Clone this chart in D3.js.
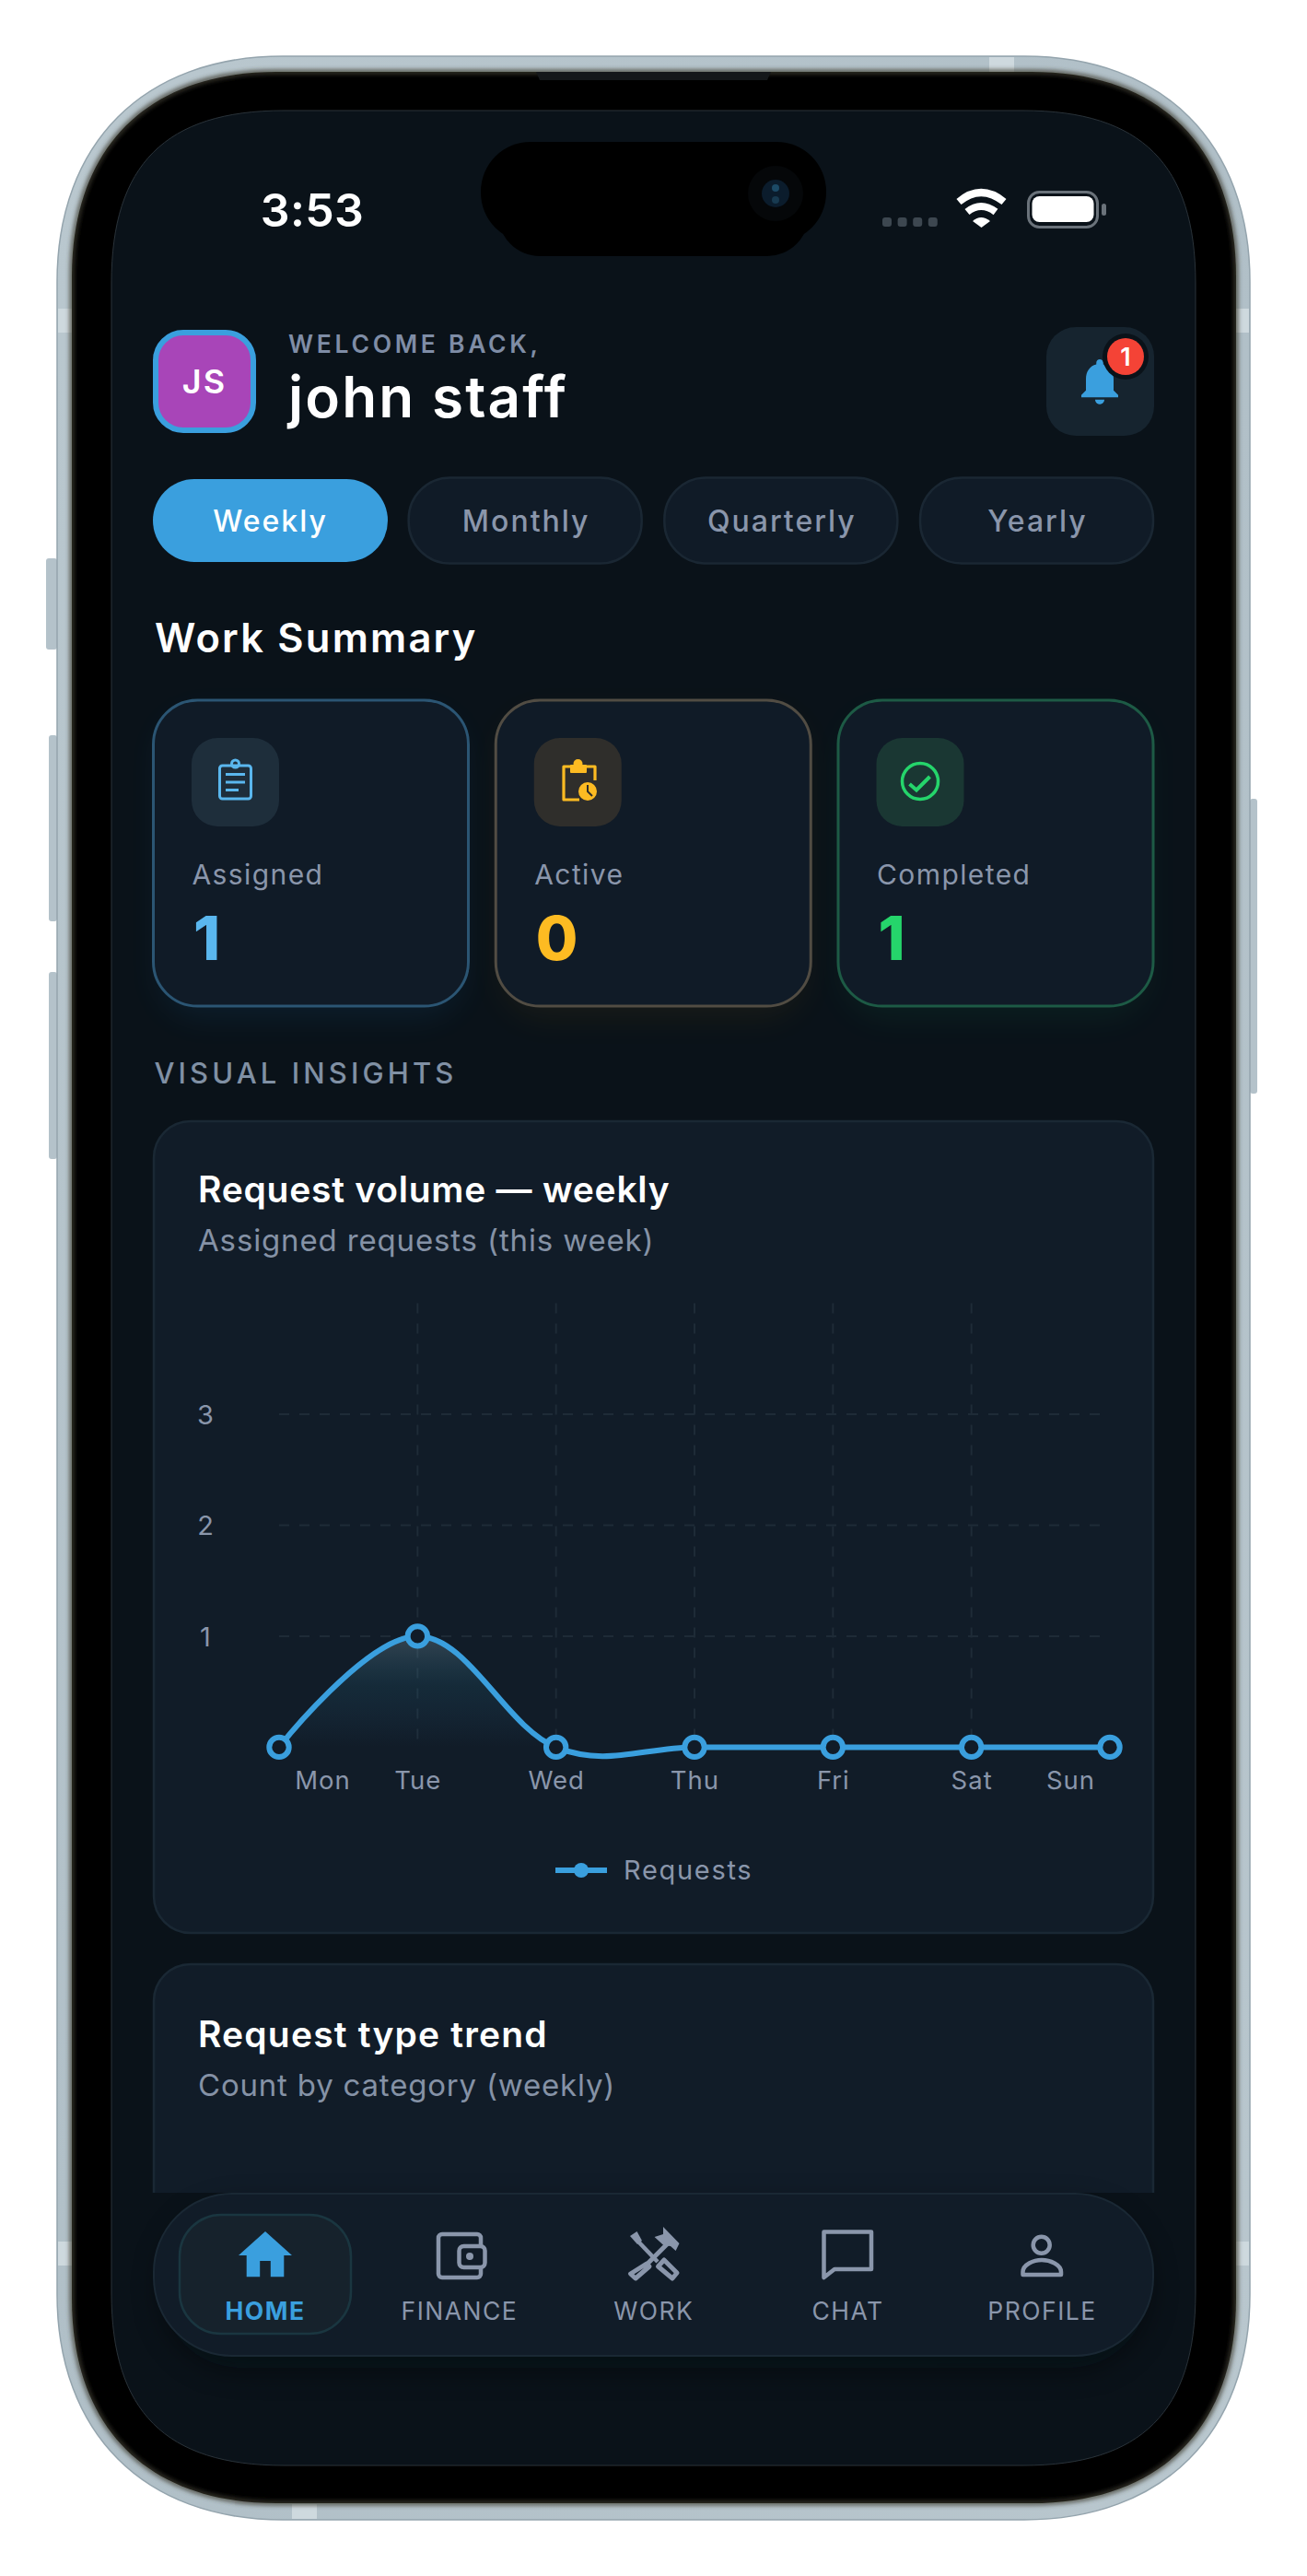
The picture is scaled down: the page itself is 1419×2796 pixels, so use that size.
<!DOCTYPE html>
<html>
<head>
<meta charset="utf-8">
<title>Staff dashboard</title>
<script src="https://cdn.jsdelivr.net/npm/d3@7"></script>
<style>
  html, body { margin: 0; padding: 0; background: #fff; }
  svg { display: block; }
  text { font-family: Inter, "Noto Sans", sans-serif; }
</style>
</head>
<body>
<div id="phone"></div>
<script>
// chart values
const days = ["Mon", "Tue", "Wed", "Thu", "Fri", "Sat", "Sun"];
const requests = [0, 1, 0, 0, 0, 0, 0];
const yTickValues = [1, 2, 3];
const seriesName = "Requests";

// rest of the screen
const periods = ["Weekly", "Monthly", "Quarterly", "Yearly"];
const summaryLabels = ["Assigned", "Active", "Completed"];
const summaryValues = [1, 0, 1];
const navLabels = ["HOME", "FINANCE", "WORK", "CHAT", "PROFILE"];

const blue = "#3a9fde", grey = "#8a96ab", subGrey = "#8592a6", cardFill = "#111c28", cardLine = "#1a2834", screenFill = "#0a1219";

const svg = d3.select("#phone").append("svg").attr("width", 1419).attr("height", 2796);
const defs = svg.append("defs");

function box(parent, x, y, w, h, r, fill, stroke, sw) {
    return parent.append("rect")
        .attr("x", x).attr("y", y).attr("width", w).attr("height", h).attr("rx", r).attr("ry", r)
        .attr("fill", fill).attr("stroke", stroke || "none").attr("stroke-width", sw || 0);
}
function label(parent, str, x, y, size, weight, fill, spacing, anchor) {
    return parent.append("text")
        .attr("x", x).attr("y", y).attr("font-size", size).attr("font-weight", weight)
        .attr("fill", fill).attr("letter-spacing", spacing || 0).attr("text-anchor", anchor || "start")
        .text(str);
}
// rounded rect with the long soft corners of the device outline
function squircle(x, y, w, h, R, k) {
    const c = R * k, r = x + w, b = y + h;
    return `M${x + R} ${y}H${r - R}C${r - c} ${y} ${r} ${y + c} ${r} ${y + R}V${b - R}` +
        `C${r} ${b - c} ${r - c} ${b} ${r - R} ${b}H${x + R}C${x + c} ${b} ${x} ${b - c} ${x} ${b - R}` +
        `V${y + R}C${x} ${y + c} ${x + c} ${y} ${x + R} ${y}Z`;
}

defs.append("filter").attr("id", "glow").attr("x", "-30%").attr("y", "-30%").attr("width", "160%").attr("height", "160%")
    .append("feGaussianBlur").attr("stdDeviation", 16);
defs.append("filter").attr("id", "soft").attr("x", "-5%").attr("y", "-5%").attr("width", "110%").attr("height", "110%")
    .append("feGaussianBlur").attr("stdDeviation", 2.5);
const metal = defs.append("linearGradient").attr("id", "metal").attr("x1", 0).attr("x2", 1).attr("y1", 0).attr("y2", 1);
metal.append("stop").attr("offset", 0).attr("stop-color", "#bac8cf");
metal.append("stop").attr("offset", 0.5).attr("stop-color", "#b0bfc7");
metal.append("stop").attr("offset", 1).attr("stop-color", "#b9c7ce");
const areaFade = defs.append("linearGradient").attr("id", "areaFade").attr("gradientUnits", "userSpaceOnUse")
    .attr("x1", 0).attr("x2", 0).attr("y1", 1776).attr("y2", 1896);
areaFade.append("stop").attr("offset", 0).attr("stop-color", "#7f98a8").attr("stop-opacity", 0.32);
areaFade.append("stop").attr("offset", 0.45).attr("stop-color", "#2f8aa8").attr("stop-opacity", 0.13);
areaFade.append("stop").attr("offset", 1).attr("stop-color", blue).attr("stop-opacity", 0);
const screenPath = squircle(121, 120, 1177, 2556, 187, 0.314);
defs.append("clipPath").attr("id", "screenClip").append("path").attr("d", screenPath);
defs.append("clipPath").attr("id", "scrollClip").append("rect")
    .attr("x", 121).attr("y", 120).attr("width", 1177).attr("height", 2260);

// ---- phone body ----
const body = svg.append("g");
[[50, 606, 12, 99], [53, 798, 9, 202], [53, 1055, 9, 203], [1357, 867, 8, 320]].forEach(b => {
    box(body, b[0], b[1], b[2], b[3], 3, "#b4c2ca");
});
body.append("path").attr("d", squircle(62, 61, 1295, 2674, 245, 0.385))
    .attr("fill", "url(#metal)").attr("stroke", "#94a4ad").attr("stroke-width", 1.5);
[[63, 335, 15, 26], [1341, 335, 15, 26], [63, 2433, 15, 26], [1341, 2433, 15, 26]].forEach(b => {
    box(body, b[0], b[1], b[2], b[3], 0, "#ced9de");
});
box(body, 1074, 62, 27, 16, 0, "#ced9de");
box(body, 317, 2718, 27, 16, 0, "#ced9de");
const bezel = squircle(78, 78, 1264, 2639, 222, 0.37);
body.append("path").attr("d", bezel).attr("fill", "#000");
body.append("path").attr("d", bezel).attr("fill", "none").attr("stroke", "#3f3d33").attr("stroke-width", 4).attr("filter", "url(#soft)");
body.append("path").attr("d", "M582 78H837L833 87H586Z").attr("fill", "#14171a");

const screen = svg.append("g").attr("clip-path", "url(#screenClip)");
screen.append("path").attr("d", screenPath).attr("fill", screenFill);
svg.append("path").attr("d", screenPath).attr("fill", "none").attr("stroke", "#2a333a").attr("stroke-width", 1);

// ---- status bar ----
box(screen, 541, 180, 337, 98, 45, "#000");
box(screen, 522, 154, 375, 109, 54, "#000");
screen.append("ellipse").attr("cx", 842).attr("cy", 210).attr("rx", 30).attr("ry", 30).attr("fill", "#050709");
screen.append("circle").attr("cx", 842).attr("cy", 210).attr("r", 15).attr("fill", "#0b1c2c");
screen.append("circle").attr("cx", 842).attr("cy", 204).attr("r", 4).attr("fill", "#1c4a66");
screen.append("circle").attr("cx", 842).attr("cy", 217).attr("r", 4).attr("fill", "#183a50");
label(screen, "3:53", 339, 246, 50, 600, "#fff", 0.4, "middle");
d3.range(4).forEach(i => box(screen, 958 + i * 16.6, 236, 10, 10, 3, "#3d4750"));
const wifi = screen.append("g").attr("fill", "none").attr("stroke", "#fff").attr("stroke-width", 8);
wifi.append("path").attr("d", "M1041 219Q1065 199 1090 219");
wifi.append("path").attr("d", "M1050 230Q1065 218 1081 230");
screen.append("path").attr("d", "M1056 240Q1065 232 1075 240L1065.5 247Z").attr("fill", "#fff");
box(screen, 1116.5, 208.5, 75, 38, 12, "none", "#6a727a", 3);
box(screen, 1120.5, 213, 67, 28, 8, "#fff");
box(screen, 1196, 221, 5, 13, 2.5, "#6a727a");

// ---- header ----
box(screen, 169, 361, 106, 106, 30, "#a845b8", "#3a9fde", 6);
label(screen, "JS", 222, 427, 36, 600, "#fff", 2, "middle");
label(screen, "WELCOME BACK,", 313, 383.3, 26.5, 600, "#7f8da6", 3.7);
label(screen, "john staff", 313, 453, 62, 600, "#fff", 2.1);
box(screen, 1136, 355, 117, 118, 32, "#16242f");
screen.append("path")
    .attr("d", "M12 22c1.1 0 2-.9 2-2h-4c0 1.1.89 2 2 2zm6-6v-5c0-3.07-1.64-5.64-4.5-6.32V4c0-.83-.67-1.5-1.5-1.5s-1.5.67-1.5 1.5v.68C7.63 5.36 6 7.92 6 11v5l-2 2v1h16v-1l-2-2z")
    .attr("transform", "translate(1164,383.7) scale(2.5)")
    .attr("fill", blue);
screen.append("circle").attr("cx", 1222).attr("cy", 387).attr("r", 25).attr("fill", screenFill);
screen.append("circle").attr("cx", 1222).attr("cy", 387).attr("r", 20).attr("fill", "#f44336");
label(screen, "1", 1222, 397, 27, 600, "#fff", 0, "middle");

// ---- period tabs ----
const tabX = d3.scalePoint().domain(periods).range([166, 999]);
periods.forEach((p, i) => {
    const on = i === 0;
    box(screen, tabX(p), on ? 520 : 518.5, on ? 255 : 253, on ? 90 : 93, 45,
        on ? blue : "#101b27", on ? "none" : "#1a2733", on ? 0 : 2.5);
    label(screen, p, tabX(p) + (on ? 127.5 : 127.5), 576.5, 32, 500, on ? "#fff" : grey, 2, "middle");
});

// ---- work summary ----
label(screen, "Work Summary", 168, 708, 43.5, 600, "#fff", 2.2);
const cardX = d3.scalePoint().domain(summaryLabels).range([166.5, 910]);
const cardLines = ["#2b5573", "#514c43", "#1d5a45"];
const cardGlow = ["#1f6da8", "#7c5a10", "#127a50"];
const iconFills = ["#1e2e3b", "#2f2e2b", "#1a3733"];
const valueFills = ["#5ab7ee", "#fdbb22", "#25d56b"];
summaryLabels.forEach((name, i) => {
    const x = cardX(name);
    box(screen, x + 6, 775, 330, 330, 48, cardGlow[i]).attr("filter", "url(#glow)").attr("opacity", 0.12);
    box(screen, x, 760, 342, 332, 48, "#101b27", cardLines[i], 3);
    box(screen, x + 41.5, 801, 95, 96, 28, iconFills[i]);
    label(screen, name, x + 42, 960, 30, 400, grey, 1.4);
    label(screen, summaryValues[i], x + 43.5, 1042, 66, 800, valueFills[i]);
});
// assigned icon
const ic1 = screen.append("g").attr("fill", "none").attr("stroke", "#5ab7ee").attr("stroke-width", 3);
box(ic1, 238.5, 831, 34, 36, 3, "none", "#5ab7ee", 3);
ic1.append("circle").attr("cx", 255.5).attr("cy", 829).attr("r", 4);
ic1.selectAll("line").data([[840.5, 266], [849, 266], [857.5, 259]]).join("line")
    .attr("x1", 245).attr("x2", d => d[1]).attr("y1", d => d[0]).attr("y2", d => d[0]);
// active icon
const ic2 = screen.append("g");
ic2.append("path").attr("d", "M646 847V832H612V868H629").attr("fill", "none").attr("stroke", "#fdbb22").attr("stroke-width", 3.2).attr("stroke-linejoin", "round");
box(ic2, 619, 830, 18, 9, 1, "#fdbb22");
ic2.append("circle").attr("cx", 627.5).attr("cy", 829).attr("r", 5).attr("fill", "#fdbb22");
ic2.append("circle").attr("cx", 638).attr("cy", 859).attr("r", 10).attr("fill", "#fdbb22");
ic2.append("path").attr("d", "M638 852V859L643 864").attr("fill", "none").attr("stroke", "#2f2e2b").attr("stroke-width", 2);
// completed icon
const ic3 = screen.append("g").attr("fill", "none").attr("stroke", "#25d56b").attr("stroke-width", 3.5);
ic3.append("circle").attr("cx", 999).attr("cy", 848).attr("r", 19.5);
ic3.append("path").attr("d", "M987.5 851L995 857.5L1009.5 843").attr("stroke-width", 4);

label(screen, "VISUAL INSIGHTS", 167.5, 1176, 31, 500, "#8090a4", 4.1);

// ---- scrolling cards ----
const scroll = screen.append("g").attr("clip-path", "url(#scrollClip)");
box(scroll, 167, 1217, 1085, 881, 40, cardFill, cardLine, 2.5);
label(scroll, "Request volume \u2014 weekly", 215, 1305, 39, 600, "#fff", 0.75);
label(scroll, "Assigned requests (this week)", 215, 1358, 33, 400, subGrey, 0.85);
box(scroll, 167, 2132, 1085, 400, 40, cardFill, cardLine, 2.5);
label(scroll, "Request type trend", 215, 2222, 39, 600, "#fff", 1.17);
label(scroll, "Count by category (weekly)", 215, 2275, 33, 400, subGrey, 0.8);

// ---- line chart ----
const chart = scroll.append("g");
const x = d3.scalePoint().domain(days).range([303, 1205]);
const y = d3.scaleLinear().domain([0, 4]).range([1896.4, 1414.4]);
const smooth = d3.curveCardinal.tension(-0.1);

const grid = chart.append("g").attr("stroke", "#1e2b37").attr("stroke-width", 2).attr("stroke-dasharray", "11 11");
grid.selectAll(".gy").data(yTickValues).join("line").attr("class", "gy")
    .attr("x1", x.range()[0]).attr("x2", x.range()[1]).attr("y1", d => y(d)).attr("y2", d => y(d));
grid.selectAll(".gx").data(days.slice(1, -1)).join("line").attr("class", "gx")
    .attr("x1", d => x(d)).attr("x2", d => x(d)).attr("y1", y(4)).attr("y2", y(0));

const axisY = chart.append("g").attr("transform", "translate(223,0)")
    .call(d3.axisLeft(y).tickValues(yTickValues).tickFormat(d3.format("d")).tickSize(0).tickPadding(0));
axisY.select(".domain").remove();
axisY.selectAll("text").attr("text-anchor", "middle").attr("dy", "0.36em")
    .attr("font-size", 29).attr("font-family", "Inter").attr("font-weight", 400).attr("fill", grey);

const axisX = chart.append("g").attr("transform", "translate(0,1914)")
    .call(d3.axisBottom(x).tickSize(0).tickPadding(0));
axisX.select(".domain").remove();
axisX.selectAll("text").attr("y", 27.7).attr("dy", 0)
    .attr("font-size", 27.5).attr("font-family", "Inter").attr("font-weight", 400)
    .attr("letter-spacing", 1).attr("fill", grey);
// first and last labels get pushed inside the plot
axisX.selectAll("text").filter(d => d === days[0]).attr("dx", 47);
axisX.selectAll("text").filter(d => d === days[days.length - 1]).attr("dx", -43);

chart.append("path").datum(requests)
    .attr("d", d3.area().x((d, i) => x(days[i])).y0(y(0)).y1(d => y(d)).curve(smooth))
    .attr("fill", "url(#areaFade)");
chart.append("path").datum(requests)
    .attr("d", d3.line().x((d, i) => x(days[i])).y(d => y(d)).curve(smooth))
    .attr("fill", "none").attr("stroke", blue).attr("stroke-width", 6);
chart.selectAll(".pt").data(requests).join("circle").attr("class", "pt")
    .attr("cx", (d, i) => x(days[i])).attr("cy", d => y(d)).attr("r", 10.7)
    .attr("fill", cardFill).attr("stroke", blue).attr("stroke-width", 6);

// legend
chart.append("line").attr("x1", 603).attr("x2", 659).attr("y1", 2030).attr("y2", 2030).attr("stroke", blue).attr("stroke-width", 6);
chart.append("circle").attr("cx", 631).attr("cy", 2030).attr("r", 8).attr("fill", blue);
label(chart, seriesName, 677, 2040, 29, 400, grey, 1.7);

// ---- bottom nav ----
box(screen, 176, 2395, 1070, 175, 85, "#05090e").attr("filter", "url(#glow)").attr("opacity", 0.5);
box(screen, 167, 2381, 1085, 176, 85, cardFill, cardLine, 2);
box(screen, 195, 2404, 186, 129, 45, "#16222c", "#1a3640", 2.5);
const navX = d3.scalePoint().domain(navLabels).range([288, 1131.5]);
navLabels.forEach((n, i) => {
    label(screen, n, navX(n), 2517.5, 26.5, i === 0 ? 700 : 400, i === 0 ? blue : grey, 1.5, "middle");
});
screen.append("path").attr("d", "M10 20v-6h4v6h5v-8h3L12 3 2 12h3v8z")
    .attr("transform", "translate(253.2,2413.3) scale(2.9)").attr("fill", blue);
const navIcons = screen.append("g").attr("fill", "none").attr("stroke", grey).attr("stroke-width", 4.5).attr("stroke-linejoin", "round");
// finance
box(navIcons, 476, 2425, 46, 47, 4, "none", grey, 4.5);
box(navIcons, 498.5, 2438, 28, 23, 5, cardFill, grey, 4.5);
navIcons.append("circle").attr("cx", 510).attr("cy", 2449).attr("r", 4).attr("fill", grey).attr("stroke", "none");
// work
navIcons.append("path").attr("d", "M684 2427L691.5 2422L697 2432L692 2436Z").attr("fill", grey).attr("stroke", "none");
navIcons.append("path").attr("d", "M693 2433L714 2455").attr("stroke-width", 4.5);
navIcons.append("path").attr("d", "M721 2453L735 2467L730 2473L714.5 2460Z").attr("stroke-width", 5);
navIcons.append("path").attr("d", "M702 2457L705 2460L690 2473L684.5 2468Z").attr("stroke-width", 5);
navIcons.append("path").attr("d", "M703 2457L726 2434").attr("stroke-width", 5);
navIcons.append("path").attr("d", "M720 2417L737.5 2435L733.6 2443L728 2438L720.4 2437L710.6 2428L720 2425Z").attr("fill", grey).attr("stroke", "none");
// chat
navIcons.append("path").attr("d", "M894.5 2422.5H946V2463H906L894.5 2472Z");
// profile
navIcons.append("circle").attr("cx", 1130.7).attr("cy", 2436.7).attr("r", 9);
navIcons.append("path").attr("d", "M1110.5 2469V2466C1110.5 2458 1122 2453 1131 2453S1152 2458 1152 2466V2469Z");
</script>
</body>
</html>
